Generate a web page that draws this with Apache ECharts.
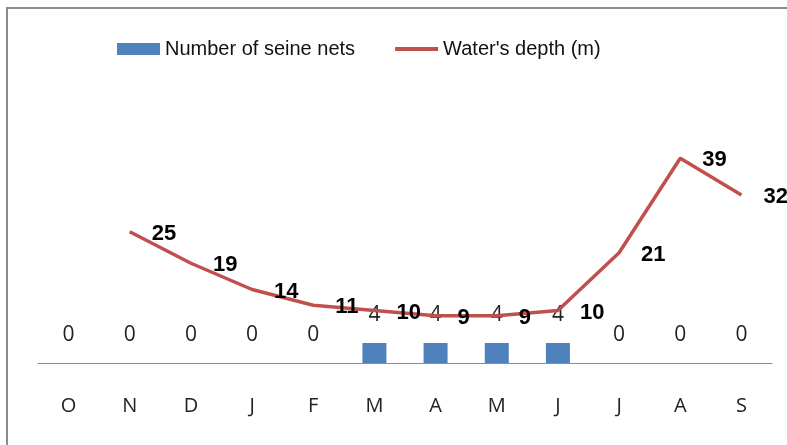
<!DOCTYPE html>
<html>
<head>
<meta charset="utf-8">
<script src="https://cdn.jsdelivr.net/npm/echarts@6/dist/echarts.min.js"></script>
<style>
    html, body { margin: 0; padding: 0; background: #fff; }
    #frame {
        position: absolute; left: 6px; top: 7px; right: -10px; bottom: -10px;
        border-top: 2px solid #8c8c8c; border-left: 2px solid #8c8c8c;
    }
    #chart-container { position: absolute; left: 0; top: 0; width: 787px; height: 445px; }
</style>
</head>
<body>
<div id="frame"></div>
<div id="chart-container"></div>
<script>
// months October -> September
const months = ['O', 'N', 'D', 'J', 'F', 'M', 'A', 'M', 'J', 'J', 'A', 'S'];
const seineNets = [0, 0, 0, 0, 0, 4, 4, 4, 4, 0, 0, 0];
const waterDepth = ['-', 25, 19, 14, 11, 10, 9, 9, 10, 21, 39, 32];

let option = {
    animation: false,
    textStyle: { fontFamily: 'Liberation Sans' },
    legend: {
        left: 112,
        top: 34,
        itemWidth: 43,
        itemHeight: 12,
        itemGap: 38,
        textStyle: { fontSize: 20, color: '#111', fontFamily: 'Liberation Sans' },
        data: [
            { name: 'Number of seine nets', icon: 'rect' },
            { name: "Water's depth (m)", itemStyle: { opacity: 0 }, lineStyle: { width: 4 } }
        ]
    },
    grid: {
        left: 38,
        right: 15,
        top: 153,
        bottom: 82
    },
    xAxis: {
        type: 'category',
        data: months,
        axisTick: { show: false },
        axisLine: { lineStyle: { color: '#8c8c8c', width: 1 } },
        axisLabel: { margin: 33, fontSize: 20, color: '#222', fontFamily: 'Open Sans' }
    },
    yAxis: [
        { type: 'value', min: 0, max: 42, show: false },
        { type: 'value', min: 0, max: 40, show: false }
    ],
    series: [
        {
            name: 'Number of seine nets',
            type: 'bar',
            yAxisIndex: 0,
            barWidth: 24,
            data: seineNets,
            itemStyle: { color: '#4F81BD' },
            label: {
                show: true,
                position: 'top',
                distance: 17,
                fontSize: 21,
                color: '#222',
                fontFamily: 'Open Sans'
            }
        },
        {
            name: "Water's depth (m)",
            type: 'line',
            yAxisIndex: 1,
            data: waterDepth,
            symbol: 'circle',
            symbolSize: 0,
            showSymbol: true,
            lineStyle: { color: '#C0504D', width: 3.5 },
            itemStyle: { color: '#C0504D' },
            label: {
                show: true,
                position: 'right',
                distance: 22,
                offset: [0, 2],
                fontSize: 22,
                fontWeight: 'bold',
                color: '#000'
            }
        }
    ]
};

let chart = echarts.init(document.getElementById('chart-container'));
chart.setOption(option);
</script>
</body>
</html>
